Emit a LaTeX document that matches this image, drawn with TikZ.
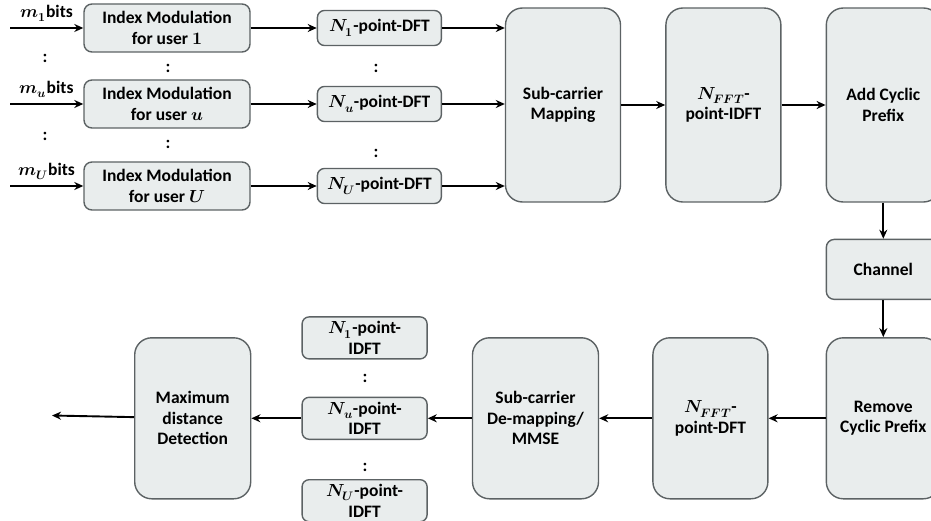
\documentclass[tikz,border=0pt]{standalone}
\usepackage{fontspec}
\usepackage{unicode-math}
\setmainfont{Carlito}
\setmathfont{Latin Modern Math}
\usepackage{tikz}
\usetikzlibrary{arrows.meta,positioning}
\definecolor{boxfill}{HTML}{E9EDED}
\definecolor{boxline}{HTML}{5C6264}

\begin{document}
\begin{tikzpicture}[x=1pt,y=1pt,
      font=\fontsize{17.5}{20.5}\selectfont\bfseries,
      box/.style={draw=boxline,fill=boxfill,line width=1.4pt,align=center,inner sep=2pt},
      imbox/.style={box,rounded corners=8pt,minimum width=166pt,minimum height=48pt},
      dftbox/.style={box,rounded corners=7pt,minimum width=124pt,minimum height=35pt},
      idftbox/.style={box,rounded corners=7pt,minimum width=125pt,minimum height=42pt},
      bigbox/.style={box,rounded corners=17pt,minimum width=115pt,minimum height=161pt},
      dots/.style={inner sep=0pt},
      flow/.style={->,line width=1.9pt},
      >={Stealth[length=9pt,width=8pt]}
    ]
      \useasboundingbox (0,0) rectangle (931,-521);

      % transmitter
      \node[imbox] (im1) at (167,-28) {Index Modulation\\for user $\symbfup{1}$};
      \node[imbox] (imu) at (167,-104) {Index Modulation\\for user $\symbfit{u}$};
      \node[imbox] (imU) at (167,-186) {Index Modulation\\for user $\symbfit{U}$};
      \node[dftbox,right=66pt of im1] (dft1) {$\symbfit{N}_{\symbfup{1}}$-point-DFT};
      \node[dftbox,right=66pt of imu] (dftu) {$\symbfit{N}_{\symbfit{u}}$-point-DFT};
      \node[dftbox,right=66pt of imU] (dftU) {$\symbfit{N}_{\symbfit{U}}$-point-DFT};
      \node[bigbox,minimum height=194pt] (map) at (563,-105) {Sub-carrier\\Mapping};
      \node[bigbox,minimum height=194pt,right=44pt of map] (idft) {$\symbfit{N}_{\symbfit{FFT}}$-\\point-IDFT};
      \node[bigbox,minimum height=194pt,minimum width=114pt,right=44pt of idft] (addcp) {Add Cyclic\\Prefix};

      \coordinate (in1) at (10,-28);
      \coordinate (inu) at (10,-104);
      \coordinate (inU) at (10,-186);

      \node[dots] (cl1) at (45,-58) {:};
      \node[dots] (cl2) at (45,-136) {:};
      \node[dots] (ci1) at (168,-68) {:};
      \node[dots] (ci2) at (168,-144) {:};
      \node[dots] (cd1) at (376,-68) {:};
      \node[dots] (cd2) at (376,-153) {:};

      \draw[flow] (in1) -- node[above=2pt] (lm1) {$\symbfit{m}_{\symbfup{1}}$bits} (im1);
      \draw[flow] (inu) -- node[above=2pt] (lmu) {$\symbfit{m}_{\symbfit{u}}$bits} (imu);
      \draw[flow] (inU) -- node[above=2pt] (lmU) {$\symbfit{m}_{\symbfit{U}}$bits} (imU);
      \draw[flow] (im1) -- (dft1);
      \draw[flow] (imu) -- (dftu);
      \draw[flow] (imU) -- (dftU);
      \draw[flow] (dft1) -- (dft1 -| map.west);
      \draw[flow] (dftu) -- (dftu -| map.west);
      \draw[flow] (dftU) -- (dftU -| map.west);
      \draw[flow] (map) -- (idft);
      \draw[flow] (idft) -- (addcp);

      % channel and receiver
      \node[box,rounded corners=8pt,minimum width=114pt,minimum height=60pt,below=36pt of addcp] (chan) {Channel};
      \node[bigbox,minimum width=114pt,below=37pt of chan] (rmcp) {Remove\\Cyclic Prefix};
      \node[bigbox,left=57pt of rmcp] (rdft) {$\symbfit{N}_{\symbfit{FFT}}$-\\point-DFT};
      \node[bigbox,minimum width=126pt,left=53pt of rdft] (demap) {Sub-carrier\\De-mapping/\\MMSE};
      \node[idftbox,left=44pt of demap] (idftu) {$\symbfit{N}_{\symbfit{u}}$-point-\\IDFT};
      \node[idftbox,above=37pt of idftu] (idft1) {$\symbfit{N}_{\symbfup{1}}$-point-\\IDFT};
      \node[idftbox,below=39pt of idftu] (idftU) {$\symbfit{N}_{\symbfit{U}}$-point-\\IDFT};
      \node[bigbox,minimum width=116pt,left=50pt of idftu] (mdd) {Maximum\\distance\\Detection};
      \coordinate (out) at (52,-415.5);

      \node[dots] (cr1) at (365,-378) {:};
      \node[dots] (cr2) at (365,-467) {:};

      \draw[flow] (addcp) -- (chan);
      \draw[flow] (chan) -- (rmcp);
      \draw[flow] (rmcp) -- (rdft);
      \draw[flow] (rdft) -- (demap);
      \draw[flow] (demap) -- (idftu);
      \draw[flow] (idftu) -- (mdd);
      \draw[flow] (mdd) -- (out);
    \end{tikzpicture}
\end{document}
